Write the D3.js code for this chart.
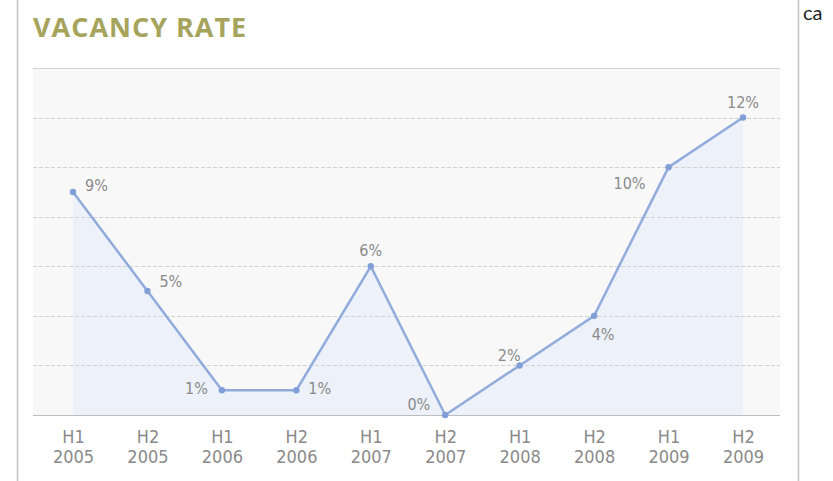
<!DOCTYPE html>
<html>
<head>
<meta charset="utf-8">
<script src="https://cdn.jsdelivr.net/npm/d3@7"></script>
<style>
  body { margin: 0; background: #fff; }
  svg { display: block; }
</style>
</head>
<body>
<div id="chart"></div>
<script>
// DATA
const periods = ['H1', 'H2', 'H1', 'H2', 'H1', 'H2', 'H1', 'H2', 'H1', 'H2'];
const years = ['2005', '2005', '2006', '2006', '2007', '2007', '2008', '2008', '2009', '2009'];
const vacancy = [9, 5, 1, 1, 6, 0, 2, 4, 10, 12];
const gridTicks = [2, 4, 6, 8, 10, 12];
// where each value label sits relative to its point
const labelPos = ['ur', 'r', 'l', 'r2', 'u', 'l2', 'ul', 'dr', 'dl', 'u'];

const width = 833, height = 481;
const margin = {left: 33, right: 53, top: 68, bottom: 66};

const svg = d3.select('#chart').append('svg')
  .attr('width', width)
  .attr('height', height);

const cats = d3.range(vacancy.length);

const x = d3.scalePoint()
  .domain(cats)
  .range([73, 743]);

const y = d3.scaleLinear()
  .domain([0, 14])
  .range([height - margin.bottom, margin.top]);

// frame
svg.append('line').attr('x1', 17.5).attr('x2', 17.5).attr('y1', 0).attr('y2', height)
  .style('stroke', '#c4c4c4').style('stroke-width', 1.5);
svg.append('line').attr('x1', 798.5).attr('x2', 798.5).attr('y1', 0).attr('y2', height)
  .style('stroke', '#c4c4c4').style('stroke-width', 1.5);
svg.append('text').attr('x', 803).attr('y', 20)
  .style('font-family', 'Lato, sans-serif').style('font-size', '20px')
  .style('fill', '#222').text('ca');

// title
svg.append('text')
  .attr('x', 33).attr('y', 37)
  .style('font-family', '"Open Sans", sans-serif')
  .style('font-weight', 'bold')
  .style('font-size', '27px')
  .style('letter-spacing', '1px')
  .style('fill', '#a6a45c')
  .text('VACANCY RATE');

// plot background
svg.append('rect')
  .attr('x', margin.left).attr('y', y(14))
  .attr('width', width - margin.left - margin.right)
  .attr('height', y(0) - y(14))
  .style('fill', '#f8f8f9');

// area under line
const area = d3.area()
  .x(function(d, i) { return x(i); })
  .y0(y(0))
  .y1(function(d) { return y(d); });
svg.append('path')
  .datum(vacancy)
  .attr('d', area)
  .style('fill', '#edf1f9');

// gridlines
svg.selectAll('.grid')
  .data(gridTicks)
  .enter().append('line')
  .attr('class', 'grid')
  .attr('x1', margin.left).attr('x2', width - margin.right)
  .attr('y1', function(d) { return Math.round(y(d)) + 0.5; })
  .attr('y2', function(d) { return Math.round(y(d)) + 0.5; })
  .style('stroke', '#d2d2d2')
  .style('stroke-dasharray', '4,2');

svg.append('line')
  .attr('x1', margin.left).attr('x2', width - margin.right)
  .attr('y1', Math.round(y(14)) + 0.5).attr('y2', Math.round(y(14)) + 0.5)
  .style('stroke', '#cfcfcf');

// x axis
const xAxis = svg.append('g')
  .attr('transform', 'translate(0,' + (Math.round(y(0)) + 0.5) + ')')
  .call(d3.axisBottom(x).tickSize(0).tickFormat(''));
xAxis.select('.domain')
  .attr('d', 'M' + margin.left + ',0H' + (width - margin.right))
  .style('stroke', '#bdbdbd');
xAxis.selectAll('.tick').each(function(d) {
  const g = d3.select(this);
  g.append('text')
    .attr('class', 'per')
    .attr('y', 27)
    .text(periods[d]);
  g.append('text')
    .attr('class', 'yr')
    .attr('y', 47)
    .text(years[d]);
  g.selectAll('text')
    .attr('x', 0)
    .attr('text-anchor', 'middle')
    .style('font-family', '"Liberation Sans Narrow", "DejaVu Sans Condensed", sans-serif')
    .style('font-size', '18px')
    .style('fill', '#8a8a8a');
});

// line
const line = d3.line()
  .x(function(d, i) { return x(i); })
  .y(function(d) { return y(d); });
svg.append('path')
  .datum(vacancy)
  .attr('d', line)
  .style('fill', 'none')
  .style('stroke', '#91acdc')
  .style('stroke-width', 2.5);

svg.selectAll('.dot')
  .data(vacancy)
  .enter().append('circle')
  .attr('cx', function(d, i) { return x(i); })
  .attr('cy', function(d) { return y(d); })
  .attr('r', 3.2)
  .style('fill', '#7f9fd6');

// value labels
const offsets = {
  ur: [12, -1, 'start'],
  r: [12, -4, 'start'],
  r2: [12, 4, 'start'],
  l: [-14, 4, 'end'],
  l2: [-15, -5, 'end'],
  u: [0, -10, 'middle'],
  ul: [1, -4, 'end'],
  dr: [9, 24, 'middle'],
  dl: [-23, 22, 'end']
};
svg.selectAll('.lbl')
  .data(vacancy)
  .enter().append('text')
  .attr('class', 'lbl')
  .attr('x', function(d, i) { return x(i) + offsets[labelPos[i]][0]; })
  .attr('y', function(d, i) { return y(d) + offsets[labelPos[i]][1]; })
  .attr('text-anchor', function(d, i) { return offsets[labelPos[i]][2]; })
  .style('font-family', '"Liberation Sans Narrow", "DejaVu Sans Condensed", sans-serif')
  .style('font-size', '16px')
  .style('fill', '#8a8a8a')
  .text(function(d) { return d + '%'; });
</script>
</body>
</html>
